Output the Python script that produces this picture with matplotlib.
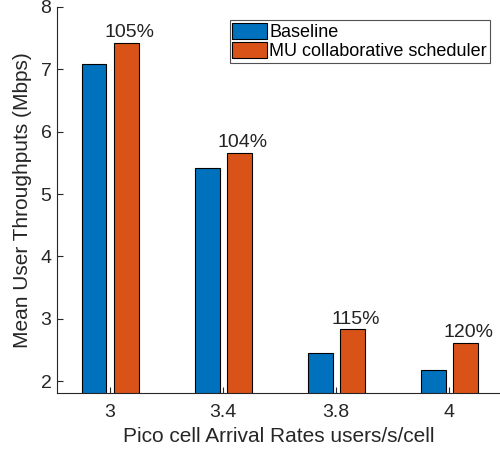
import matplotlib
matplotlib.use("Agg")
import matplotlib.pyplot as plt
import numpy as np

plt.rcParams["font.family"] = ["Liberation Sans", "DejaVu Sans"]

categories = ["3", "3.4", "3.8", "4"]
baseline = [7.08, 5.42, 2.45, 2.18]
mu_sched = [7.42, 5.66, 2.83, 2.62]
gain_labels = ["105%", "104%", "115%", "120%"]

BLUE = "#0072BD"
ORANGE = "#D95319"

fig = plt.figure(figsize=(5.0, 4.54), dpi=100)
ax = fig.add_axes([0.114, 0.134, 0.886, 0.851])

x = np.arange(1, len(categories) + 1)
w = 0.22
off = 0.142
ax.bar(x - off, baseline, w, color=BLUE, edgecolor="black", lw=0.8,
       label="Baseline", zorder=2)
ax.bar(x + off, mu_sched, w, color=ORANGE, edgecolor="black", lw=0.8,
       label="MU collaborative scheduler", zorder=2)
for xi, v, t in zip(x, mu_sched, gain_labels):
    ax.text(xi + off + 0.03, v + 0.03, t, ha="center", va="bottom",
            fontsize=14, color="#222222")

ax.set_xlim(0.53, 4.45)
ax.set_ylim(1.81, 8)
ax.set_xticks(x)
ax.set_xticklabels(categories)
ax.set_yticks([2, 3, 4, 5, 6, 7, 8])
ax.tick_params(direction="in", labelsize=14, colors="#262626", length=4)
ax.tick_params(axis="x", pad=8)
ax.tick_params(axis="y", pad=4)
for s in ("top", "right"):
    ax.spines[s].set_visible(False)
for s in ("left", "bottom"):
    ax.spines[s].set_color("#262626")
ax.set_xlabel("Pico cell Arrival Rates users/s/cell", fontsize=15,
              color="#262626", labelpad=4)
ax.set_ylabel("Mean User Throughputs (Mbps)", fontsize=15, color="#262626",
              labelpad=6)

leg = ax.legend(loc="upper right", bbox_to_anchor=(0.985, 0.975), fontsize=13,
                frameon=True, fancybox=False, borderpad=0.15, handlelength=1.9,
                handleheight=1.0, handletextpad=0.15, labelspacing=0.05,
                borderaxespad=0.2)
leg.get_frame().set_edgecolor("#262626")
leg.get_frame().set_linewidth(0.8)

fig.savefig("out.png", dpi=100)
